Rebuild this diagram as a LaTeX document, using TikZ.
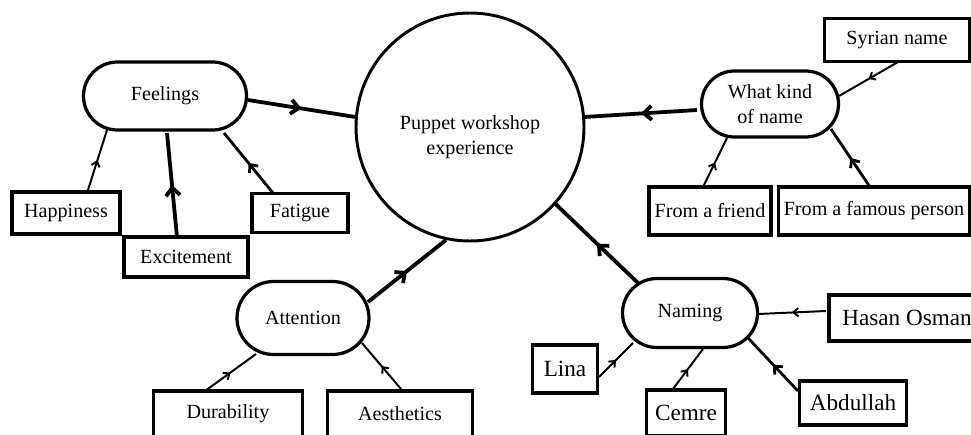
\documentclass[tikz,border=0pt]{standalone}
\usepackage{fontspec}
\setmainfont{Liberation Serif}
\usetikzlibrary{shapes.misc,arrows.meta,decorations.markings}
\newdimen\pxu \pxu=0.025cm

\begin{document}
\begin{tikzpicture}[x=0.025cm,y=-0.025cm,
  hub/.style={circle,draw,line width=2.1pt,minimum size=228\pxu,inner sep=0pt},
  pill/.style={rounded rectangle,draw,line width=2.3pt,inner sep=0pt,align=center,font=\fontsize{14.3}{17.8}\selectfont},
  box/.style={rectangle,draw,line width=2.7pt,inner sep=0pt,font=\fontsize{14.3}{16}\selectfont},
  namebox/.style={box,font=\fontsize{16.5}{19}\selectfont},
  thin link/.style={line width=1.4pt,postaction={decorate},decoration={markings,mark=at position 0.5 with {\arrow{Straight Barb[length=3.5pt,width=6pt]}}}},
  mid link/.style={line width=2pt,postaction={decorate},decoration={markings,mark=at position 0.5 with {\arrow{Straight Barb[length=4.5pt,width=8pt]}}}},
  main link/.style={line width=2.7pt,postaction={decorate},decoration={markings,mark=at position 0.5 with {\arrow{Straight Barb[length=5.5pt,width=10pt]}}}}]
\useasboundingbox (0,0) rectangle (971,434);
\clip (0,0) rectangle (971,434);

\node[hub] (hub) at (470,127) {};
\node[align=center,font=\fontsize{14.3}{17.8}\selectfont] (hubtext) at (470,137) {Puppet workshop\\experience};

\node[pill,minimum width=163\pxu,minimum height=68\pxu] (feel) at (165,96) {Feelings};
\node[box,minimum width=108\pxu,minimum height=42\pxu] (happy) at (66,213) {Happiness};
\node[box,minimum width=124\pxu,minimum height=40\pxu] (excite) at (186,257) {Excitement};
\node[box,minimum width=96\pxu,minimum height=39\pxu] (fatigue) at (300,213) {Fatigue};

\node[pill,minimum width=137\pxu,minimum height=66\pxu] (kind) at (770,104) {What kind\\of name};
\node[box,minimum width=145\pxu,minimum height=43\pxu] (syrian) at (897,40) {Syrian name};
\node[box,minimum width=122\pxu,minimum height=48\pxu] (friend) at (710,211) {From a friend};
\node[box,minimum width=191\pxu,minimum height=48\pxu] (famous) at (874,211) {From a famous person};

\node[pill,minimum width=132\pxu,minimum height=73\pxu] (attn) at (303,318) {Attention};
\node[box,minimum width=149\pxu,minimum height=46\pxu] (durab) at (228,414) {Durability};
\node[box,minimum width=145\pxu,minimum height=46\pxu] (aesth) at (400,414) {Aesthetics};

\node[pill,minimum width=135\pxu,minimum height=69\pxu] (naming) at (690,313) {Naming};
\node[namebox,minimum width=156\pxu,minimum height=46\pxu] (hasan) at (907,318) {Hasan Osman};
\node[namebox,minimum width=65\pxu,minimum height=48\pxu] (lina) at (565,369) {Lina};
\node[namebox,minimum width=79\pxu,minimum height=46\pxu] (cemre) at (686,413) {Cemre};
\node[namebox,minimum width=107\pxu,minimum height=44\pxu] (abdul) at (853,403) {Abdullah};

\draw[main link] ([shift={(83,4)}]feel.center) -- (hub.175);
\draw[main link] ([shift={(-73,6)}]kind.center) -- (hub.5);
\draw[main link] ([shift={(65,-16)}]attn.center) -- (hub.258);
\draw[main link] ([shift={(-52,-30)}]naming.center) -- (hub.318);

\draw[thin link] ([shift={(22,-23)}]happy.center) -- ([shift={(-58,34)}]feel.center);
\draw[main link] ([shift={(-9,-20)}]excite.center) -- ([shift={(2,37)}]feel.center);
\draw[mid link] ([shift={(-27,-20)}]fatigue.center) -- ([shift={(59,37)}]feel.center);

\draw[thin link] ([shift={(1,22)}]syrian.center) -- ([shift={(69,-8)}]kind.center);
\draw[thin link] ([shift={(-7,-24)}]friend.center) -- ([shift={(-43,34)}]kind.center);
\draw[mid link] ([shift={(-4,-24)}]famous.center) -- ([shift={(61,25)}]kind.center);

\draw[thin link] ([shift={(-23,-23)}]durab.center) -- ([shift={(-47,36)}]attn.center);
\draw[thin link] ([shift={(1,-25)}]aesth.center) -- ([shift={(59,25)}]attn.center);

\draw[thin link] ([shift={(-81,-7)}]hasan.center) -- ([shift={(68,1)}]naming.center);
\draw[thin link] ([shift={(34,8)}]lina.center) -- ([shift={(-57,30)}]naming.center);
\draw[thin link] ([shift={(-13,-24)}]cemre.center) -- ([shift={(13,36)}]naming.center);
\draw[mid link] ([shift={(-55,-12)}]abdul.center) -- ([shift={(58,25)}]naming.center);
\end{tikzpicture}
\end{document}
